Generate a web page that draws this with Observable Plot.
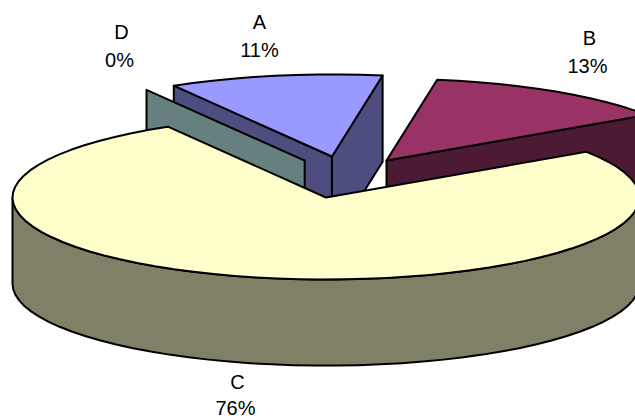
<!DOCTYPE html>
<html><head><meta charset="utf-8">
<script src="https://cdn.jsdelivr.net/npm/d3@7"></script>
<script src="https://cdn.jsdelivr.net/npm/@observablehq/plot@0.6"></script>
<style>html,body{margin:0;padding:0;background:#fff}svg{display:block}</style>
</head><body><div id="chart"></div>
<script>
const categories = ["A", "B", "C", "D"];
const shares = [11, 13, 76, 0];
const percentLabels = ["11%", "13%", "76%", "0%"];
const topColors = ["#9999ff", "#993366", "#ffffcc", "#ccffff"];
const sideColors = ["#4d4d80", "#4d1a33", "#808066", "#668080"];
// pie layout, in pie radii
const explode = {A: [0.019, 0.5], B: [0.193, 0.45], C: [0, 0], D: [-0.068, 0.45]};
const depth = 1.05;
const firstAngle = 120.3; // degrees, counter-clockwise from east
const W = 635, H = 419, cx = 325.5, cy = 197, rx = 313.5, ry = 82;
const labelAt = {A: [259, 22, 259, 50], B: [589, 38, 587, 66], C: [237, 382, 235, 408.5], D: [121, 32, 119, 60]};

const rad = d => d * Math.PI / 180;
let running = firstAngle;
const wedges = categories.map((name, i) => {
  const from = running, to = running - shares[i] * 3.6;
  running = to;
  return {name, from, to, dx: explode[name][0], dy: explode[name][1], top: topColors[i], side: sideColors[i]};
});
const byName = Object.fromEntries(wedges.map(w => [w.name, w]));
const rim = (w, a) => ({x: w.dx + Math.cos(rad(a)), y: w.dy + Math.sin(rad(a))});
const apex = w => ({x: w.dx, y: w.dy});
const drop = p => ({x: p.x, y: p.y - depth});
const arc = (w, a, b) => {
  const n = Math.max(1, Math.round(Math.abs(b - a) / 4));
  return d3.range(n + 1).map(k => rim(w, a + (b - a) * k / n));
};
const closed = pts => [...pts, pts[0]];
const topFace = w => closed([apex(w), ...arc(w, w.from, w.to)]);
const radialFace = (w, a) => closed([apex(w), rim(w, a), drop(rim(w, a)), drop(apex(w))]);
const lowerSide = w => closed([...arc(w, 180, 360), ...arc(w, 360, 180).map(drop)]);

const {A, B, C, D} = byName;
const faces = [
  [radialFace(A, A.from), A.side],
  [radialFace(A, A.to), A.side],
  [topFace(A), A.top],
  [radialFace(D, D.from), D.side],
  [radialFace(B, B.to), B.side],
  [topFace(B), B.top],
  [lowerSide(C), C.side],
  [topFace(C), C.top]
];
const toX = px => (px - cx) / rx, toY = py => (cy - py) / ry;
const labels = categories.flatMap((name, i) => [
  {x: toX(labelAt[name][0]), y: toY(labelAt[name][1]), text: name},
  {x: toX(labelAt[name][2]), y: toY(labelAt[name][3]), text: percentLabels[i]}
]);

const plot = Plot.plot({
  width: W, height: H,
  margin: 0,
  x: {domain: [toX(0), toX(W)], range: [0, W], axis: null},
  y: {domain: [toY(H), toY(0)], range: [H, 0], axis: null},
  style: {background: "#fff"},
  marks: [
    ...faces.map(([pts, color]) => Plot.line(pts, {
      x: "x", y: "y", fill: color, stroke: "#000", strokeWidth: 2
    })),
    Plot.text(labels, {
      x: "x", y: "y", text: "text", fill: "#000", fontSize: 20,
      fontFamily: "Liberation Sans, Arial, sans-serif"
    })
  ]
});
document.getElementById("chart").append(plot);
</script></body></html>
